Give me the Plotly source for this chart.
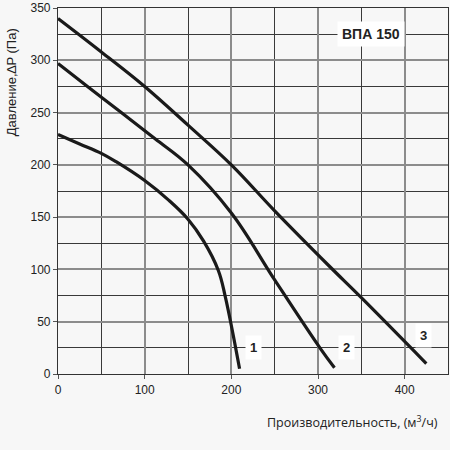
import plotly.graph_objects as go

# fan curves: flow (m3/h) vs pressure (Pa)
c1_x = [0, 25, 50, 67, 100, 128, 150, 168, 185, 193, 209.5]
c1_y = [229, 220, 211, 203, 185, 166, 148, 127, 99, 74, 5]
c2_x = [0, 34, 73, 112, 150, 200, 250, 303, 319]
c2_y = [297, 275, 250, 225, 200, 154, 90, 24, 6]
c3_x = [0, 50, 100, 150, 200, 250, 312, 350, 425]
c3_y = [340, 308, 275, 238, 200, 156, 104, 73, 10]

curve_labels = ["1", "2", "3"]
label_x = [225, 333, 422]
label_y = [25, 25, 37]

title_text = "ВПА 150"
x_title = "Производительность, (м<sup>3</sup>/ч)"
y_title = "Давление,∆P (Па)"

fig = go.Figure()
for xs, ys in [(c1_x, c1_y), (c2_x, c2_y), (c3_x, c3_y)]:
    fig.add_trace(go.Scatter(x=xs, y=ys, mode="lines",
                             line=dict(color="#1a1a1a", width=3.2, shape="spline", smoothing=1.1),
                             showlegend=False, hoverinfo="skip"))

for t, x, y in zip(curve_labels, label_x, label_y):
    fig.add_annotation(x=x, y=y, text=f"<b>{t}</b>", showarrow=False,
                       bgcolor="white", borderpad=4,
                       font=dict(family="Liberation Sans", size=13, color="#222"))

fig.add_annotation(x=361, y=325, text=f"<b>{title_text}</b>", showarrow=False,
                   bgcolor="white", borderpad=4,
                   font=dict(family="Liberation Sans", size=14, color="#222"))

axis_common = dict(
    showline=True, mirror=True, linecolor="#333", linewidth=1.2,
    showgrid=True, gridcolor="#8c8c8c", gridwidth=1.6,
    ticks="outside", ticklen=4, tickcolor="#555",
    tickfont=dict(family="Liberation Sans", size=12, color="#222"),
    ticklabeloverflow="allow",
    zeroline=False,
    minor=dict(showgrid=True, gridcolor="#3a3a3a", gridwidth=1),
)

fig.update_xaxes(range=[0, 450], dtick=100, tick0=0, **axis_common)
fig.update_xaxes(minor_dtick=50)
fig.update_yaxes(range=[0, 350], dtick=50, tick0=0, **axis_common)
fig.update_yaxes(minor_dtick=25)

fig.add_annotation(xref="paper", yref="paper", x=0.979, y=-0.13, xanchor="right", yanchor="middle",
                   text=x_title, showarrow=False,
                   font=dict(family="Open Sans", size=12.5, color="#222"))
fig.add_annotation(xref="paper", yref="paper", x=-0.145, y=0.95, xanchor="left", yanchor="top",
                   text=y_title, showarrow=False, textangle=-90,
                   font=dict(family="Liberation Sans", size=13, color="#222"))

fig.update_layout(
    width=450, height=450,
    margin=dict(l=58, r=1, t=5, b=76),
    paper_bgcolor="#f7f7f7", plot_bgcolor="#f7f7f7",
)

# page body has a default 8px margin; drop it so the figure sits at the corner
fig.write_html("out.html", config={"displayModeBar": False},
               post_script="document.body.style.margin='0';")
